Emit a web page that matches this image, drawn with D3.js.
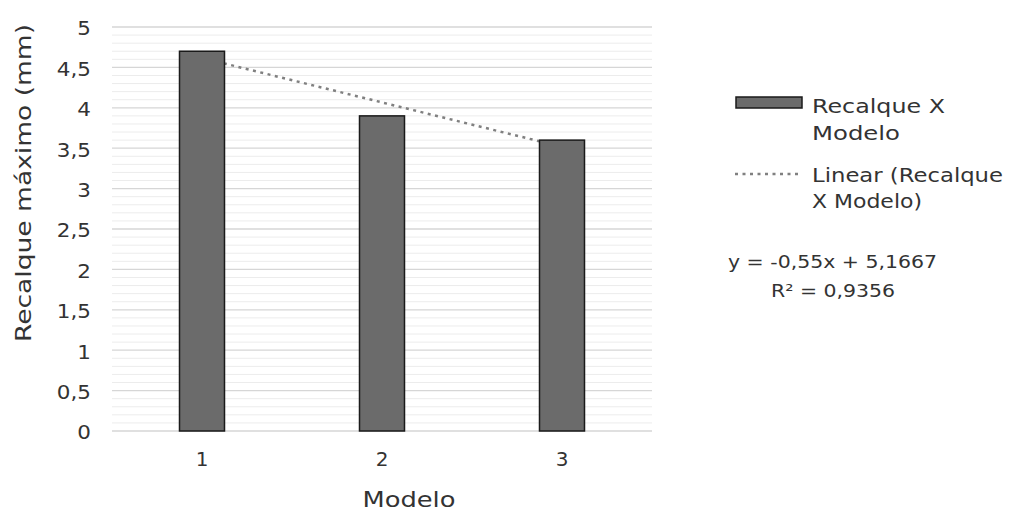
<!DOCTYPE html>
<html><head><meta charset="utf-8">
<script src="https://cdn.jsdelivr.net/npm/d3@7"></script>
<style>body{margin:0;background:#fff}svg{display:block}text{font-family:"DejaVu Sans",sans-serif;fill:#333}</style>
</head><body><svg id="c" width="1013" height="512"></svg>
<script>
const categories = ["1","2","3"];
const values = [4.7, 3.9, 3.6];
const yTicks = [0,0.5,1,1.5,2,2.5,3,3.5,4,4.5,5];
const yTickLabels = ["0","0,5","1","1,5","2","2,5","3","3,5","4","4,5","5"];
const trend = {slope:-0.55, intercept:5.1667};
const seriesName = ["Recalque X","Modelo"];
const trendName = ["Linear (Recalque","X Modelo)"];
const equation = "y = -0,55x + 5,1667";
const r2Label = "R² = 0,9356";
const yTitle = "Recalque máximo (mm)";
const xTitle = "Modelo";

const svg = d3.select("#c");
const L=112, R=652, T=27, B=431;
const x = d3.scaleBand().domain(categories).range([L,R]).paddingInner(0.75).paddingOuter(0.375);
const y = d3.scaleLinear().domain([0,5]).range([B,T]);

// widen glyphs to approximate the wide geometric face of the original
function fit(sel, w){
  sel.attr("textLength", w).attr("lengthAdjust","spacingAndGlyphs");
}
function stretch(sel, k){
  sel.each(function(){
    const nat = this.getComputedTextLength();
    d3.select(this).attr("textLength", nat*k).attr("lengthAdjust","spacingAndGlyphs");
  });
}

// minor grid
const minor = d3.range(0,50).map(i=>i/10).filter(v=>Math.round(v*10)%5!==0);
svg.append("g").selectAll("line").data(minor).join("line")
  .attr("x1",L).attr("x2",R).attr("y1",d=>y(d)).attr("y2",d=>y(d))
  .attr("stroke","#ececec").attr("stroke-width",1);
svg.append("g").selectAll("line").data(yTicks).join("line")
  .attr("x1",L).attr("x2",R).attr("y1",d=>y(d)).attr("y2",d=>y(d))
  .attr("stroke","#d6d6d6").attr("stroke-width",1.3);

// y axis labels
const yAxis = d3.axisLeft(y).tickValues(yTicks).tickFormat((d,i)=>yTickLabels[i]).tickSize(0).tickPadding(21);
const ga = svg.append("g").attr("transform",`translate(${L},0)`).call(yAxis);
ga.select(".domain").remove();
ga.selectAll("text").style("font-family","'DejaVu Sans', sans-serif").style("font-size","19px")
  .attr("fill","#333").attr("dy","0.42em").call(stretch, 1.13);

// trendline (behind bars)
const xc = i => x(categories[i]) + x.bandwidth()/2;
const xNum = d3.scaleLinear().domain([1,3]).range([xc(0), xc(2)]);
svg.append("line")
  .attr("x1",xNum(1)).attr("y1",y(trend.slope*1+trend.intercept))
  .attr("x2",xNum(3)).attr("y2",y(trend.slope*3+trend.intercept))
  .attr("stroke","#808080").attr("stroke-width",2.5).attr("stroke-dasharray","3,4.5");

// bars
svg.append("g").selectAll("rect").data(values).join("rect")
  .attr("x",(d,i)=>x(categories[i])).attr("width",x.bandwidth())
  .attr("y",d=>y(d)).attr("height",d=>B-y(d))
  .attr("fill","#6b6b6b").attr("stroke","#1a1a1a").attr("stroke-width",1.5);

// x axis labels
const xAxis = d3.axisBottom(x).tickSize(0).tickPadding(27);
const gx = svg.append("g").attr("transform",`translate(0,${B})`).call(xAxis);
gx.select(".domain").remove();
gx.selectAll("text").style("font-family","'DejaVu Sans', sans-serif").style("font-size","20px")
  .attr("fill","#333").attr("dy","0.42em");

// axis titles
svg.append("text").attr("transform","translate(31,183) rotate(-90)").attr("text-anchor","middle")
  .style("font-size","22px").text(yTitle).call(fit, 318);
svg.append("text").attr("x",409).attr("y",507).attr("text-anchor","middle")
  .style("font-size","22px").text(xTitle).call(fit, 93);

// legend
svg.append("rect").attr("x",736).attr("y",97).attr("width",66).attr("height",11)
  .attr("fill","#6b6b6b").attr("stroke","#1a1a1a").attr("stroke-width",1.5);
const lw1=[133,88], lw2=[191,110];
svg.append("g").selectAll("text").data(seriesName).join("text")
  .attr("x",812).attr("y",(d,i)=>113+i*27).style("font-size","19px").text(d=>d)
  .each(function(d,i){ d3.select(this).call(fit, lw1[i]); });
svg.append("line").attr("x1",735).attr("x2",802).attr("y1",174).attr("y2",174)
  .attr("stroke","#808080").attr("stroke-width",2.5).attr("stroke-dasharray","3,4.5");
svg.append("g").selectAll("text").data(trendName).join("text")
  .attr("x",812).attr("y",(d,i)=>182+i*26).style("font-size","19px").text(d=>d)
  .each(function(d,i){ d3.select(this).call(fit, lw2[i]); });
svg.append("text").attr("x",728).attr("y",268).style("font-size","17px").text(equation).call(fit, 209);
svg.append("text").attr("x",771).attr("y",297).style("font-size","17px").text(r2Label).call(fit, 124);
</script></body></html>
